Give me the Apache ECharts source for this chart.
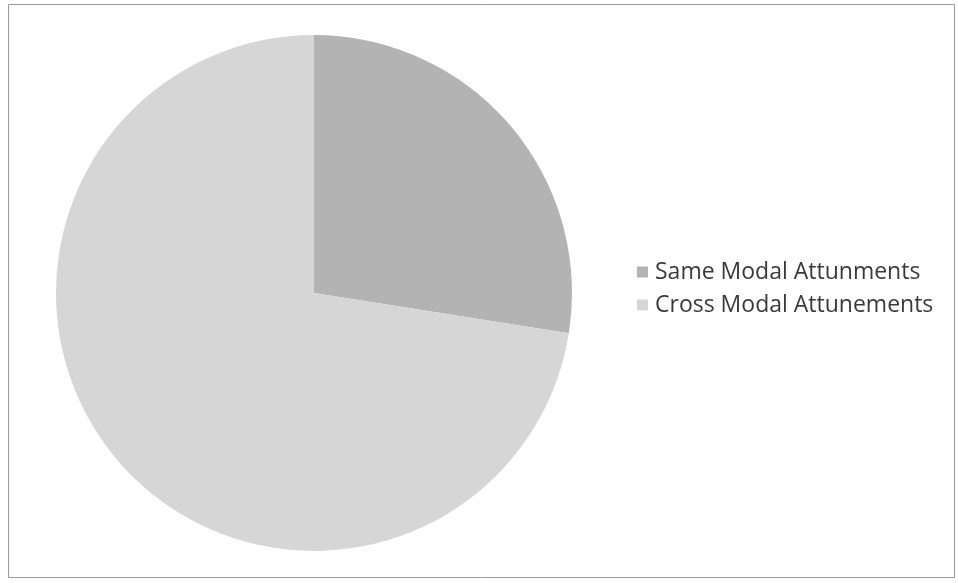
<!DOCTYPE html>
<html><head><meta charset="utf-8">
<script src="https://cdn.jsdelivr.net/npm/echarts@6/dist/echarts.min.js"></script>
<style>html,body{margin:0;padding:0;background:#fff}#c{width:958px;height:583px}</style>
</head><body><div id="c"></div>
<script>
const categories = ['Same Modal Attunments', 'Cross Modal Attunements'];
const values = [27.5, 72.5];
const colors = ['#b3b3b3', '#d6d6d6'];

const chart = echarts.init(document.getElementById('c'));
chart.setOption({
  animation: false,
  backgroundColor: '#fff',
  graphic: [{
    type: 'rect', shape: {x: 8.5, y: 4.5, width: 946, height: 573},
    style: {fill: 'none', stroke: '#9a9a9a', lineWidth: 1}
  }],
  legend: {
    orient: 'vertical', left: 632, top: 255,
    itemWidth: 11, itemHeight: 11, itemGap: 9,
    icon: 'rect',
    textStyle: {fontFamily: 'Open Sans', fontSize: 23, lineHeight: 24, color: '#3a3a3a', padding: [0,0,0,2]},
    data: categories
  },
  series: [{
    type: 'pie', center: [314, 293], radius: 258, startAngle: 90, clockwise: true,
    label: {show: false}, labelLine: {show: false},
    itemStyle: {borderWidth: 0},
    emphasis: {disabled: true},
    data: categories.map((n, i) => ({name: n, value: values[i], itemStyle: {color: colors[i]}}))
  }]
});
</script></body></html>
